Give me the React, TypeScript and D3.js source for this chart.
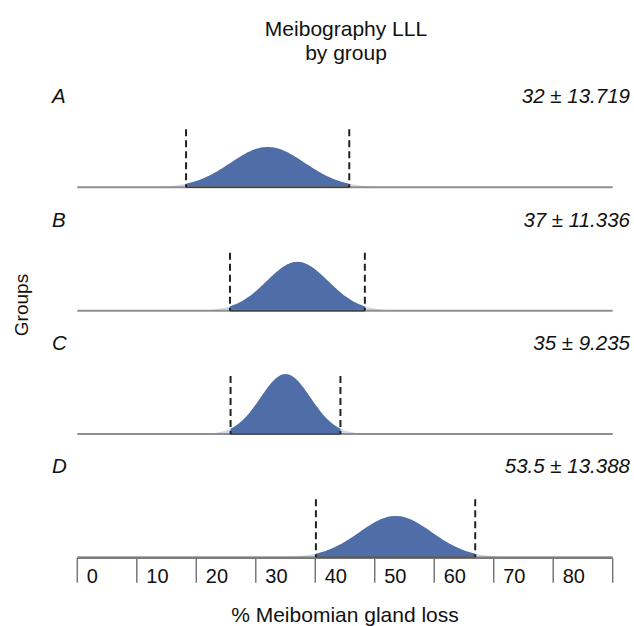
import React from "react";
import * as d3 from "d3";

const groups = ["A", "B", "C", "D"];
const means = [32, 37, 35, 53.5];
const sds = [13.719, 11.336, 9.235, 13.388];
const sdLabels = ["13.719", "11.336", "9.235", "13.388"];
const tickValues = [0, 10, 20, 30, 40, 50, 60, 70, 80, 90];
const tickLabels = ["0", "10", "20", "30", "40", "50", "60", "70", "80", ""];
// the drawn bell is narrower than the ±SD markers
const curveSpread = 2.2;

const W = 634;
const H = 626;
const FONT = "Liberation Sans, Arial, Helvetica, sans-serif";

const x = d3.scaleLinear().domain([0, 90]).range([77.3, 612.7]);
const panelY = d3.scaleLinear().domain([0, 3]).range([187.3, 557.3]);
const yDen = d3.scaleLinear().domain([0, 0.1]).range([0, 63]);

function pdf(v: number, m: number, s: number) {
  return Math.exp(-0.5 * ((v - m) / s) ** 2) / (s * Math.sqrt(2 * Math.PI));
}

export default function App() {
  const xs = d3.range(0, 90.001, 0.25);
  return (
    <svg width={W} height={H} style={{ display: "block", position: "absolute", left: 0, top: 0 }} fontFamily={FONT}>
      <rect width={W} height={H} fill="#fff" />
      <text x={346} y={36} textAnchor="middle" fontSize={21} fill="#111">Meibography LLL</text>
      <text x={346} y={60} textAnchor="middle" fontSize={21} fill="#111">by group</text>
      <text transform={`translate(28,305) rotate(-90)`} textAnchor="middle" fontSize={19} fill="#111">Groups</text>
      {groups.map((g, i) => {
        const base = panelY(i);
        const m = means[i];
        const s = sds[i];
        const cs = s / curveSpread;
        const area = d3
          .area<number>()
          .x((v) => x(v))
          .y0(base)
          .y1((v) => base - yDen(pdf(v, m, cs)))
          .curve(d3.curveLinear);
        const inner = xs.filter((v) => v > m - s && v < m + s);
        const innerPts = [m - s, ...inner, m + s];
        const dashTop = base - 58;
        return (
          <g key={g}>
            <text x={52} y={base - 84} fontSize={20.5} fontStyle="italic" fill="#111">{g}</text>
            <text x={630} y={base - 84} fontSize={20.5} fontStyle="italic" textAnchor="end" fill="#111">
              {`${m} ± ${sdLabels[i]}`}
            </text>
            <path d={area(xs) || ""} fill="#c3cfe6" opacity={0.75} />
            <path d={area(innerPts) || ""} fill="#4f6ea8" />
            <line x1={x(0)} x2={x(90)} y1={base} y2={base} stroke="#8f8f8f" strokeWidth={2} />
            <line x1={x(m - s)} x2={x(m + s)} y1={base} y2={base} stroke="#3a3f4a" strokeWidth={1.5} />
            <line x1={x(m - s)} x2={x(m - s)} y1={dashTop} y2={base} stroke="#222" strokeWidth={2} strokeDasharray="7,4" />
            <line x1={x(m + s)} x2={x(m + s)} y1={dashTop} y2={base} stroke="#222" strokeWidth={2} strokeDasharray="7,4" />
          </g>
        );
      })}
      <g>
        <line x1={x(0)} x2={x(90)} y1={558.3} y2={558.3} stroke="#777" strokeWidth={1.5} />
        {tickValues.map((t, i) => (
          <g key={t}>
            <line x1={x(t)} x2={x(t)} y1={558.3} y2={582.7} stroke="#777" strokeWidth={1.5} />
            <text x={x(t) + 9.5} y={583.3} fontSize={20} fill="#111">{tickLabels[i]}</text>
          </g>
        ))}
      </g>
      <text x={345} y={621.5} textAnchor="middle" fontSize={21} fill="#111">% Meibomian gland loss</text>
    </svg>
  );
}
